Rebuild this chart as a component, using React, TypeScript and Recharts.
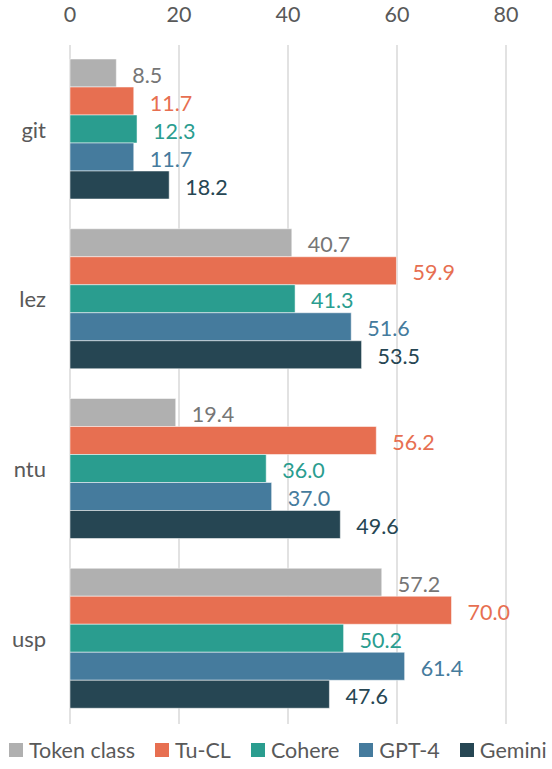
import React from "react";
import {
  BarChart,
  Bar,
  XAxis,
  YAxis,
  CartesianGrid,
  LabelList,
  Legend,
} from "recharts";

const categories = ["git", "lez", "ntu", "usp"];
const tokenClass = [8.5, 40.7, 19.4, 57.2];
const tuCL = [11.7, 59.9, 56.2, 70.0];
const cohere = [12.3, 41.3, 36.0, 50.2];
const gpt4 = [11.7, 51.6, 37.0, 61.4];
const gemini = [18.2, 53.5, 49.6, 47.6];
const xTicks = [0, 20, 40, 60, 80];

const series = [
  { key: "token", name: "Token class", values: tokenClass, fill: "#b0b0b0", label: "#767676" },
  { key: "tucl", name: "Tu-CL", values: tuCL, fill: "#e76f51", label: "#e76f51" },
  { key: "cohere", name: "Cohere", values: cohere, fill: "#2a9d8f", label: "#2a9d8f" },
  { key: "gpt4", name: "GPT-4", values: gpt4, fill: "#457b9d", label: "#457b9d" },
  { key: "gemini", name: "Gemini", values: gemini, fill: "#264653", label: "#264653" },
];

const data = categories.map((c, i) => {
  const row: Record<string, any> = { cat: c };
  series.forEach((s) => (row[s.key] = s.values[i]));
  return row;
});

const FONT = "Lato, 'Open Sans', sans-serif";

function LegendBox() {
  return (
    <div
      style={{
        display: "flex",
        justifyContent: "flex-start",
        alignItems: "center",
        gap: 20,
        padding: "6px 0 0 9px",
        fontFamily: FONT,
        fontSize: 21.5,
        color: "#595959",
        height: 45,
        boxSizing: "border-box",
        whiteSpace: "nowrap",
      }}
    >
      {series.map((s) => (
        <span key={s.key} style={{ display: "inline-flex", alignItems: "center", gap: 6 }}>
          <span style={{ display: "inline-block", width: 14, height: 14, background: s.fill }} />
          {s.name}
        </span>
      ))}
    </div>
  );
}

export default function App() {
  return (
    <div style={{ width: 552, height: 769, background: "#fff" }}>
      <style>{`body{margin:0}`}</style>
      <BarChart
        width={552}
        height={769}
        data={data}
        layout="vertical"
        margin={{ top: 0, right: 46, bottom: 0, left: 0 }}
        barCategoryGap={14}
        barGap={0}
        style={{ fontFamily: FONT }}
      >
        <CartesianGrid horizontal={false} stroke="#d9d9d9" strokeWidth={1.5} />
        <XAxis
          type="number"
          orientation="top"
          domain={[0, 80]}
          ticks={xTicks}
          height={45}
          axisLine={false}
          tickLine={false}
          tickMargin={17}
          tick={{ fill: "#595959", fontSize: 21.5 }}
        />
        <YAxis
          type="category"
          dataKey="cat"
          width={70}
          axisLine={false}
          tickLine={false}
          tickMargin={18}
          tick={{ fill: "#595959", fontSize: 22 }}
        />
        <Legend
          verticalAlign="bottom"
          height={45}
          wrapperStyle={{ left: 0, width: 552, bottom: 0 }}
          content={() => <LegendBox />}
        />
        {series.map((s) => (
          <Bar
            key={s.key}
            dataKey={s.key}
            name={s.name}
            fill={s.fill}
            stroke="#ffffff"
            strokeOpacity={0.5}
            strokeWidth={1}
            isAnimationActive={false}
          >
            <LabelList
              dataKey={s.key}
              position="right"
              offset={16}
              dy={2}
              fill={s.label}
              fontSize={21.5}
              formatter={(v: any) => Number(v).toFixed(1)}
            />
          </Bar>
        ))}
      </BarChart>
    </div>
  );
}
